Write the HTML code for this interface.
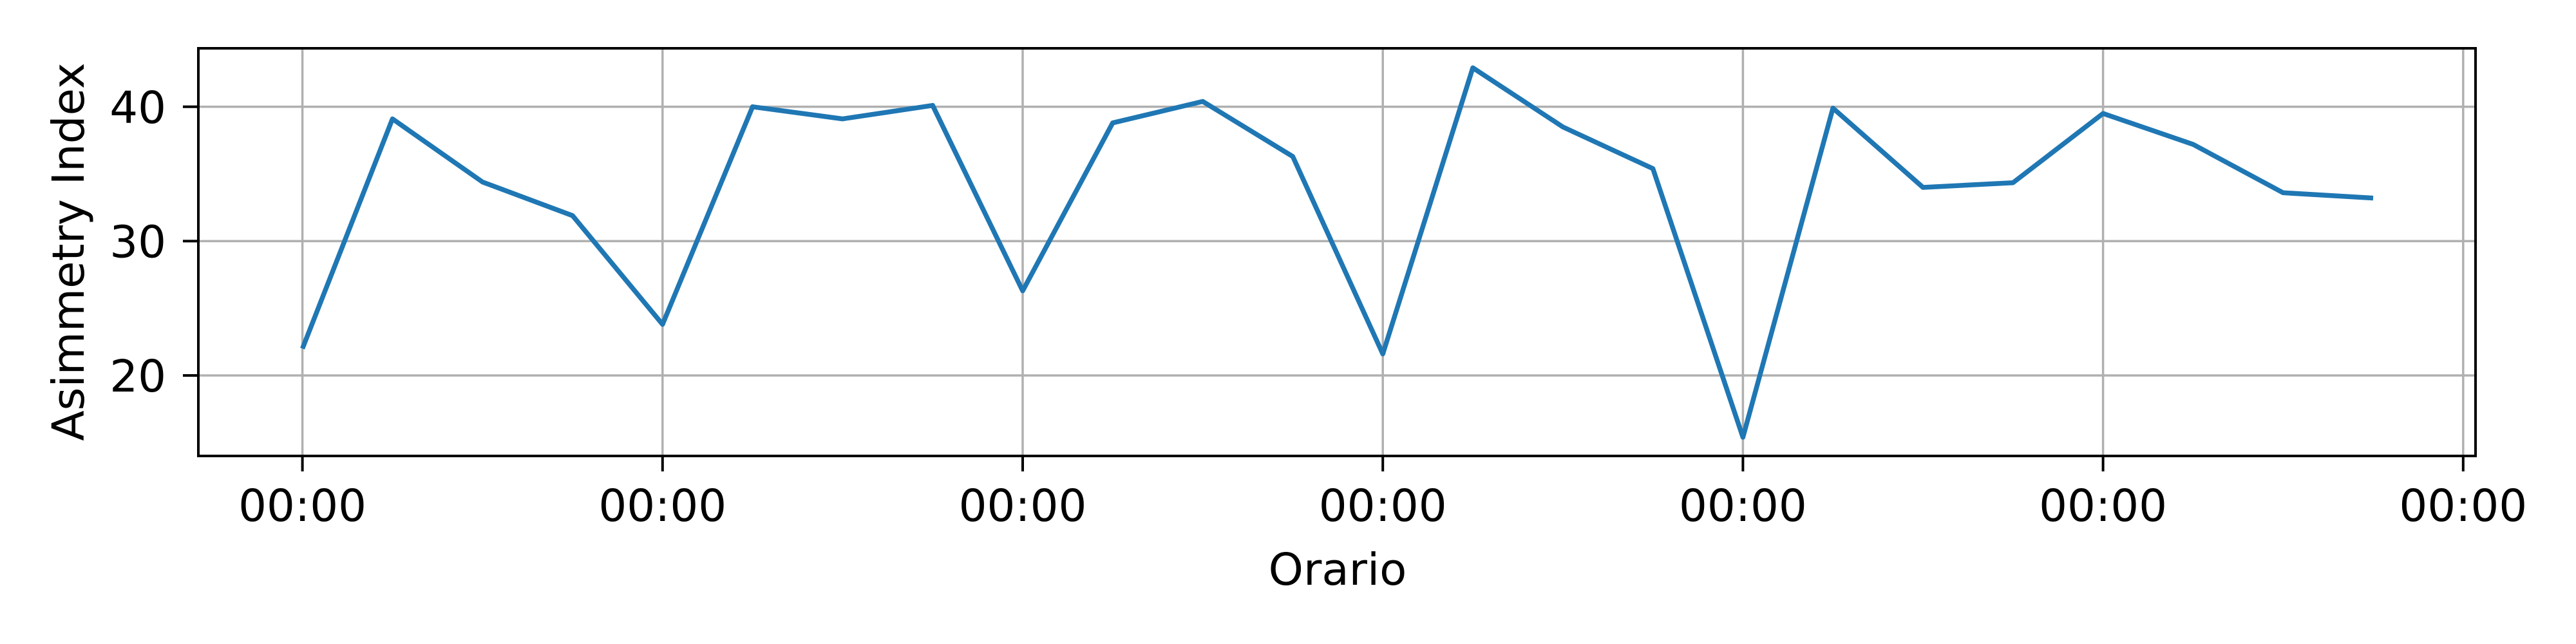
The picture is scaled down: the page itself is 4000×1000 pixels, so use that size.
<!DOCTYPE html>
<html><head><meta charset="utf-8"><style>
html,body{margin:0;padding:0;background:#fff;}
svg{display:block;font-family:"DejaVu Sans","Liberation Sans",sans-serif;}
</style></head><body>
<svg id="chart" width="4000" height="1000" viewBox="0 0 4000 1000">
<rect width="4000" height="1000" fill="#fff"/>
<g id="grid"></g>
<g id="series"></g>
<g id="axes"></g>
<text x="2077" y="908" font-size="69" text-anchor="middle">Orario</text>
<text transform="translate(130,391) rotate(-90)" font-size="69" text-anchor="middle">Asimmetry Index</text>
</svg>
<script>
const values = [22.0,39.1,34.4,31.9,23.8,40.0,39.1,40.1,26.3,38.8,40.4,36.3,21.6,42.9,38.5,35.4,15.4,39.9,34.0,34.35,39.5,37.2,33.6,33.2];
const xTickLabels = ["00:00","00:00","00:00","00:00","00:00","00:00","00:00"];
const yTicks = [20,30,40];
const pointsPerTick = 4;

const NS="http://www.w3.org/2000/svg";
const L=308,R=3844,T=75,B=708;
const x0=469.6, tickStep=559.2;
function xScale(i){return x0+i*tickStep/pointsPerTick;}
function yScale(v){return 583-(v-20)*20.86;}
function mk(tag,attrs,parent){const e=document.createElementNS(NS,tag);for(const k in attrs)e.setAttribute(k,attrs[k]);parent.appendChild(e);return e;}
const grid=document.getElementById('grid'),axes=document.getElementById('axes'),series=document.getElementById('series');

xTickLabels.forEach((lab,i)=>{
  const x=xScale(i*pointsPerTick);
  const g=mk('line',{x1:x,x2:x,y1:T,y2:B,stroke:'#b0b0b0','stroke-width':3.5},grid);
  
  
  const t=mk('line',{x1:x,x2:x,y1:B,y2:B+24,stroke:'#000','stroke-width':4},axes);
  
  
  const tx=mk('text',{x:x,y:809,'font-size':69,'text-anchor':'middle'},axes);
  tx.textContent=lab;
  
  
});
yTicks.forEach(v=>{
  const y=yScale(v);
  const g=mk('line',{x1:L,x2:R,y1:y,y2:y,stroke:'#b0b0b0','stroke-width':3.5},grid);
  
  
  const t=mk('line',{x1:L-24,x2:L,y1:y,y2:y,stroke:'#000','stroke-width':4},axes);
  
  
  const tx=mk('text',{x:258,y:y+25,'font-size':69,'text-anchor':'end'},axes);
  tx.textContent=v;
  
  
});
const frame=mk('rect',{x:L,y:T,width:R-L,height:B-T,fill:'none',stroke:'#000','stroke-width':4},axes);



const pts=values.map((v,i)=>xScale(i).toFixed(1)+','+yScale(v).toFixed(1)).join(' ');
const line=mk('polyline',{points:pts,fill:'none',stroke:'#1f77b4','stroke-width':7.5,'stroke-linejoin':'round'},series);


</script>
</body></html>
